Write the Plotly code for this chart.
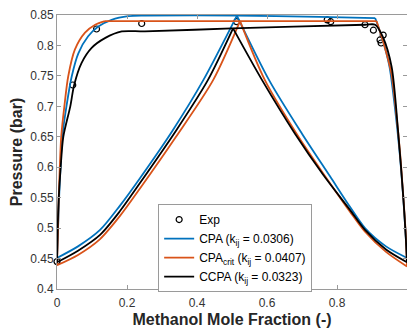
import plotly.graph_objects as go

# Experimental VLE data (methanol mole fraction, pressure in bar)
x_exp = [0.0, 0.045, 0.113, 0.242, 0.513, 0.772, 0.782, 0.880, 0.904, 0.923, 0.926, 0.932]
p_exp = [0.445, 0.735, 0.827, 0.836, 0.839, 0.842, 0.839, 0.834, 0.825, 0.809, 0.804, 0.817]

# CPA (kij = 0.0306)
x_cpa_bub = [0.0, 0.003, 0.006, 0.010, 0.015, 0.027, 0.042, 0.061, 0.089, 0.118, 0.156, 0.204,
             0.251, 0.514, 0.750, 0.909, 0.930, 0.950, 0.965, 0.978, 0.988, 0.995, 1.0]
p_cpa_bub = [0.451, 0.500, 0.550, 0.600, 0.650, 0.700, 0.749, 0.787, 0.815, 0.831, 0.842, 0.848,
             0.849, 0.849, 0.847, 0.845, 0.810, 0.765, 0.700, 0.630, 0.560, 0.500, 0.451]
x_cpa_dew = [0.0, 0.060, 0.123, 0.180, 0.237, 0.330, 0.418, 0.514,
             0.606, 0.700, 0.780, 0.837, 0.880, 0.940, 1.0]
p_cpa_dew = [0.451, 0.470, 0.497, 0.537, 0.582, 0.660, 0.743, 0.849,
             0.743, 0.655, 0.585, 0.535, 0.500, 0.470, 0.451]

# CPA_crit (kij = 0.0407)
x_crit_bub = [0.0, 0.003, 0.005, 0.008, 0.012, 0.021, 0.032, 0.051, 0.080, 0.109, 0.137,
              0.913, 0.935, 0.955, 0.968, 0.980, 0.989, 0.996, 1.0]
p_crit_bub = [0.439, 0.500, 0.550, 0.600, 0.650, 0.700, 0.749, 0.793, 0.821, 0.834, 0.840,
              0.840, 0.800, 0.755, 0.695, 0.625, 0.555, 0.495, 0.437]
x_crit_dew = [0.0, 0.060, 0.123, 0.180, 0.237, 0.340, 0.446, 0.523,
              0.594, 0.690, 0.770, 0.837, 0.880, 0.940, 1.0]
p_crit_dew = [0.439, 0.456, 0.482, 0.520, 0.565, 0.650, 0.743, 0.840,
              0.743, 0.650, 0.582, 0.527, 0.494, 0.461, 0.437]

# CCPA (kij = 0.0323)
x_ccpa_bub = [0.0, 0.002, 0.005, 0.0105, 0.018, 0.038, 0.049, 0.070, 0.099, 0.137, 0.185,
              0.251, 0.500, 0.880, 0.909, 0.931, 0.956, 0.975, 0.990, 0.997, 1.0]
p_ccpa_bub = [0.444, 0.500, 0.550, 0.600, 0.650, 0.700, 0.735, 0.771, 0.796, 0.812, 0.823,
              0.823, 0.828, 0.834, 0.834, 0.814, 0.765, 0.656, 0.546, 0.480, 0.444]
x_ccpa_dew = [0.0, 0.060, 0.123, 0.180, 0.237, 0.340, 0.431, 0.503,
              0.586, 0.680, 0.760, 0.837, 0.880, 0.940, 1.0]
p_ccpa_dew = [0.444, 0.463, 0.489, 0.528, 0.574, 0.660, 0.743, 0.828,
              0.743, 0.655, 0.588, 0.530, 0.497, 0.465, 0.444]

x_ticks = [0, 0.2, 0.4, 0.6, 0.8, 1.0]
x_tick_text = ["0", "0.2", "0.4", "0.6", "0.8", ""]

FONT = "Liberation Sans, Arial, Helvetica, sans-serif"
AXIS_GRAY = "#9a9a9a"
TICK_TEXT = "#333333"


def split_at(xs, ps, breaks):
    """Cut a curve into separately smoothed pieces at sharp corners."""
    out_x, out_p = [], []
    start = 0
    for b in list(breaks) + [len(xs) - 1]:
        if out_x:
            out_x.append(None)
            out_p.append(None)
        out_x.extend(xs[start:b + 1])
        out_p.extend(ps[start:b + 1])
        start = b
    return out_x, out_p


def peak_index(ps):
    return max(range(len(ps)), key=lambda i: ps[i])


models = [
    ("CPA (k<sub>ij</sub> = 0.0306)", "#0072BD",
     x_cpa_bub, p_cpa_bub, [15], x_cpa_dew, p_cpa_dew),
    ("CPA<sub>crit</sub> (k<sub>ij</sub> = 0.0407)", "#D95319",
     x_crit_bub, p_crit_bub, [10, 11], x_crit_dew, p_crit_dew),
    ("CCPA (k<sub>ij</sub> = 0.0323)", "#000000",
     x_ccpa_bub, p_ccpa_bub, [], x_ccpa_dew, p_ccpa_dew),
]

fig = go.Figure()

fig.add_trace(go.Scatter(
    x=x_exp, y=p_exp, mode="markers", name="Exp",
    marker=dict(symbol="circle-open", size=6, color="black", line=dict(width=1.2, color="black")),
    cliponaxis=False,
))

for name, color, xb, pb, bub_breaks, xd, pd_ in models:
    bx, bp = split_at(xb, pb, bub_breaks)
    dx, dp = split_at(xd, pd_, [peak_index(pd_)])
    fig.add_trace(go.Scatter(
        x=bx + [None] + dx, y=bp + [None] + dp, mode="lines", name=name,
        line=dict(color=color, width=1.8, shape="spline", smoothing=0.8),
        connectgaps=False,
    ))

axis_common = dict(
    showline=True, linecolor=AXIS_GRAY, linewidth=1, mirror="ticks",
    ticks="inside", ticklen=4, tickcolor=AXIS_GRAY, tickwidth=1,
    showgrid=False, zeroline=False,
    tickfont=dict(family=FONT, size=12, color=TICK_TEXT),
)

fig.update_xaxes(
    range=[0, 1], tickvals=x_ticks, ticktext=x_tick_text, ticklabelstandoff=3,
    title=dict(text="Methanol Mole Fraction (-)", standoff=4,
               font=dict(family=FONT, size=16, color="#262626", weight="bold")),
    **axis_common,
)
fig.update_yaxes(
    range=[0.4, 0.85], dtick=0.05, tick0=0.4,
    title=dict(text="Pressure (bar)", standoff=3,
               font=dict(family=FONT, size=16, color="#262626", weight="bold")),
    **axis_common,
)

fig.update_layout(
    width=407, height=328,
    margin=dict(l=57, r=0, t=15, b=39, autoexpand=False),
    paper_bgcolor="white", plot_bgcolor="white",
    font=dict(family=FONT),
    showlegend=True,
    legend=dict(
        x=0.289, y=0.31, xanchor="left", yanchor="top",
        bgcolor="white", bordercolor=AXIS_GRAY, borderwidth=1,
        font=dict(family=FONT, size=12, color="black"),
        itemwidth=30, tracegroupgap=0,
    ),
)

fig.write_html("out.html")
